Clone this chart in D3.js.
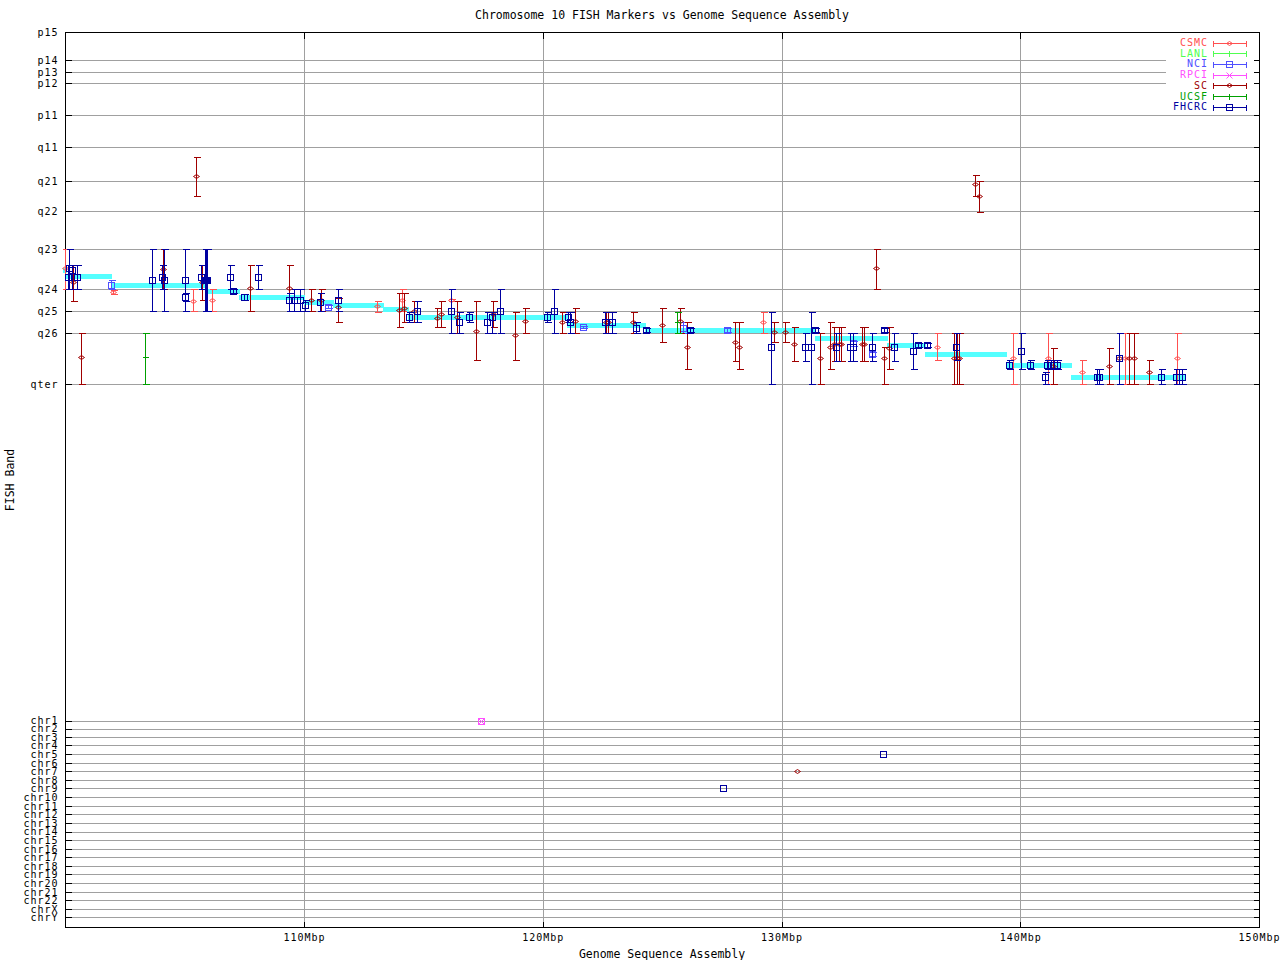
<!DOCTYPE html>
<html><head><meta charset="utf-8">
<script src="https://cdn.jsdelivr.net/npm/d3@7"></script>
<style>
body{margin:0;background:#fff}
svg{display:block}
</style></head><body>
<svg id="c" width="1280" height="960"></svg>
<script>
// ---------------- DATA ----------------
const xTicks = [110, 120, 130, 140, 150];
const bandLabels = ["p15","p14","p13","p12","p11","q11","q21","q22","q23","q24","q25","q26","qter"];
const bandPos = [0, 28, 40, 51, 83, 115, 149, 179, 217, 257, 279, 301, 352];
const chrLabels = ["chr1","chr2","chr3","chr4","chr5","chr6","chr7","chr8","chr9","chr10","chr11","chr12","chr13","chr14","chr15","chr16","chr17","chr18","chr19","chr20","chr21","chr22","chrX","chrY"];
const chrPos = [688.7,696.7,705.3,713.3,722,731,739,748,756.3,765.3,774,782.3,791,799.7,808.3,817.3,825.3,834,842,851.3,860.3,868.3,877.3,885.3];

const sources = ["CSMC","LANL","NCI","RPCI","SC","UCSF","FHCRC"];

// [Mbp, band, bandLow, bandHigh]
const csmc = [
[100.0,236,217,257],[102.01,259.5,257.5,261.5],[105.36,268.7,257,279],[106.16,268,257,279],
[113.07,274,268.7,279.7],[114.12,268,257.3,279],[116.17,268,267,269],[129.24,290.3,279.7,301.3],
[136.53,315.3,301.3,328],[139.71,326.3,301.3,352.3],[141.18,326.3,301.3,352.3],[142.60,340.3,328,352.3],
[144.40,326.3,301.3,352.3],[146.58,326.3,301.3,352.3]
];
const lanl = [];
const nci = [
[101.90,253,248,257],[111.02,274.7,273,276],[121.67,294.7,293.7,295.7],[125.86,296.3,290,301.3],
[127.73,298,296,300],[133.01,311.3,309,314],[133.80,322,320,324]
];
const rpci = [];
const sc = [
[100.32,250,233,269],[100.66,325,301,352],[104.11,237.3,217,257],[105.48,144,125,164],
[105.73,250,233,268],[107.75,256.3,233,279],[109.38,256.3,233,279],[110.31,268,257,279],
[110.72,268,257,279],[111.44,274.7,266,290],[113.99,278,261.3,295.3],[114.20,276.3,261.3,290.3],
[114.61,279,268.7,290.3],[115.58,286.3,276.3,295.3],[115.75,282,268.7,295.3],[116.42,285.3,268.7,301.3],
[117.22,298.7,268.7,328],[117.93,282,268.7,295.3],[118.85,303.3,279.7,328],[119.27,289.3,276.3,301.3],
[120.82,290.3,279.7,301.3],[121.36,289.3,276.3,301.3],[122.64,290.3,279.7,301.3],[122.75,290.3,279.7,301.3],
[123.79,290.3,279.7,301.3],[124.98,293,276.3,310.3],[125.76,289,276.3,301.3],[126.03,314.7,290.3,337.3],
[128.04,309.7,290.3,328.7],[128.21,314.7,290.3,337.3],[129.67,300.3,290.3,310.3],[130.16,300.3,290.3,310.3],
[130.51,312,295.3,328.7],[131.60,326.3,301.3,352.3],[132.04,314.7,290.3,337.3],[132.19,312,295.3,328.7],
[132.40,312,295.3,328.7],[132.51,312,295.3,328.7],[133.38,312,295.3,328.7],[133.44,312,295.3,328.7],
[133.96,236,217,257],[134.28,326.3,315.3,352.3],[134.52,316.3,295.3,337.3],[137.24,326.3,301.3,352.3],
[137.36,326.3,301.3,352.3],[137.44,326.3,301.3,352.3],[138.10,152,143,164],[138.27,164,149,180],
[141.38,334,316.3,352.3],[143.73,334,316.3,352.3],[144.12,326.3,301.3,352.3],[144.55,326.3,301.3,352.3],
[144.75,326.3,301.3,352.3],[145.40,340.3,328,352.3]
];
const ucsf = [
[103.34,325,301,352],[125.64,290.3,279.7,301.3]
];
const fhcrc = [
[100.12,245,233,257],[100.16,236,217,257],[100.28,238,233,257],[100.49,245,233,257],
[103.65,248.3,217,279],[104.04,245.3,233,257],[104.15,248.3,217,279],[105.03,248.3,217,279],
[105.03,265.3,261,269],[105.69,245,233,257],[105.87,248,217,279],[105.90,248,217,279],
[105.92,248,217,279],[106.91,245.3,233,257],[107.04,259,257,261],[107.50,265,262,268],
[108.09,245.3,233,257],[109.36,268,261,279],[109.59,268,257,279],[109.83,268,257,279],
[110.05,273,268,279],[110.68,270.3,261,279],[111.44,268,257,279],[114.41,285,279.7,290.3],
[114.75,279,268.7,290.3],[116.17,279,257.3,301.3],[116.50,290,279.7,301.3],[116.92,285,279.7,290.3],
[117.68,290,279.7,301.3],[117.89,285,279.7,301.3],[118.22,279.3,257.3,301.3],[120.19,285,279.7,290.3],
[120.48,279.3,257.3,301.3],[121.07,285,279.7,290.3],[121.15,290.3,279.7,301.3],[122.61,290.3,279.7,301.3],
[122.89,290.3,279.7,301.3],[123.91,296.3,290,301.3],[124.33,298,296,300],[126.17,298.3,296.3,300.3],
[129.57,315.3,279.7,352.3],[131.00,315.3,301.3,328.7],[131.25,315.3,279.7,352.3],[131.42,298.3,296.3,300.3],
[132.27,315.3,301.3,328.7],[132.87,315.3,301.3,328.7],[133.01,315.3,301.3,328.7],[133.80,315.3,301.3,328.7],
[134.28,298.3,296.3,300.3],[134.73,315.3,301.3,328.7],[135.52,319.3,301.3,337.3],[135.73,313.3,311.3,315.3],
[136.11,313.3,311.3,315.3],[137.31,315.3,301.3,328],[139.54,333,328,337.3],[140.04,319.3,301.3,337.3],
[140.42,333,328,337.3],[141.05,345.3,339.7,352.3],[141.13,333,328,337.3],[141.28,333,328,337.3],
[141.41,333,328,337.3],[141.52,333,328,337.3],[143.23,345.3,337.3,352.3],[143.29,345.3,337.3,352.3],
[144.15,326.3,301.3,352.3],[145.88,345.3,337.3,352.3],[146.52,345.3,337.3,352.3],[146.66,345.3,337.3,352.3],
[146.77,345.3,337.3,352.3]
];

// markers mapped to other chromosomes
const offSrc = ["RPCI","FHCRC","SC","FHCRC"];
const offMbp = [117.41, 134.25, 130.65, 127.55];
const offChr = ["chr1","chr5","chr7","chr9"];

// assembly band assignment (step line)
const stepStart = [99.91,100.03,101.92,105.85,107.28,110.0,111.21,113.31,114.36,121.02,124.28,131.40,134.42,136.01,139.40,142.13];
const stepEnd   = [100.03,101.92,105.85,107.28,110.0,111.21,113.31,114.36,121.02,124.28,131.40,134.42,136.01,139.40,142.13,146.90];
const stepBand  = [238,244,253,259,265,269.5,273.5,277,285,293,298,305.5,313,321.5,332.5,345];

// ---------------- STYLE ----------------
const seriesData = {CSMC:csmc, LANL:lanl, NCI:nci, RPCI:rpci, SC:sc, UCSF:ucsf, FHCRC:fhcrc};
const colors = {CSMC:"#ff5050", LANL:"#50ff50", NCI:"#5050ff", RPCI:"#ff50ff", SC:"#a00000", UCSF:"#00a000", FHCRC:"#0000a0"};
const markers = {CSMC:"diamond", LANL:"plus", NCI:"square", RPCI:"cross", SC:"diamond", UCSF:"plus", FHCRC:"square"};
const FONT = "'DejaVu Sans Mono', monospace";
const FS = 11.5;      // title / axis titles
const FS_T = 10;      // ticks / legend
const LS_T = "1px";   // letter spacing for small text

const L = 65, R = 1259, T = 32, B = 927;
const x = d3.scaleLinear().domain([100, 150]).range([L + 0.25, R]);
const y = d3.scaleLinear().domain([0, 895]).range([T, B]);

const svg = d3.select("#c").attr("shape-rendering", "crispEdges");
svg.append("rect").attr("width", 1280).attr("height", 960).attr("fill", "#fff");

const px = v => Math.round(x(v)) + 0.5;
const py = v => Math.round(y(v)) + 0.5;

// grid
const grid = svg.append("g").attr("stroke", "#a0a0a0").attr("stroke-width", 1);
xTicks.filter(t => t < 150).forEach(t => {
  grid.append("line").attr("x1", px(t)).attr("x2", px(t)).attr("y1", T).attr("y2", B);
});
bandPos.concat(chrPos).forEach(v => {
  if (v === 0) return;
  grid.append("line").attr("x1", L).attr("x2", R).attr("y1", py(v)).attr("y2", py(v));
});

// legend background
svg.append("rect").attr("x", 1166).attr("y", 35).attr("width", 92).attr("height", 77).attr("fill", "#fff");

// axes
const yTickVals = bandPos.concat(chrPos);
const yLabelMap = new Map();
bandPos.forEach((v, i) => yLabelMap.set(v, bandLabels[i]));
chrPos.forEach((v, i) => yLabelMap.set(v, chrLabels[i]));

function styleAxis(g) {
  g.select(".domain").remove();
  g.selectAll(".tick line").attr("stroke", "#000");
  g.selectAll("text").attr("fill", "#000").attr("letter-spacing", LS_T);
  g.attr("font-family", FONT).attr("font-size", FS_T);
}
svg.append("g").attr("transform", `translate(0,${B + 0.5})`)
  .call(d3.axisBottom(x).tickValues(xTicks).tickSize(-6).tickPadding(6).tickFormat(d => d + "Mbp"))
  .call(styleAxis);
svg.append("g").attr("transform", `translate(0,${T + 0.5})`)
  .call(d3.axisTop(x).tickValues(xTicks).tickSize(-6).tickFormat(""))
  .call(styleAxis);
svg.append("g").attr("transform", `translate(${L + 0.5},0)`)
  .call(d3.axisLeft(y).tickValues(yTickVals).tickSize(-6).tickPadding(7).tickFormat(d => yLabelMap.get(d)))
  .call(styleAxis);
svg.append("g").attr("transform", `translate(${R + 0.5},0)`)
  .call(d3.axisRight(y).tickValues(yTickVals).tickSize(-6).tickFormat(""))
  .call(styleAxis);

// border
svg.append("rect").attr("x", L + 0.5).attr("y", T + 0.5).attr("width", R - L).attr("height", B - T)
  .attr("fill", "none").attr("stroke", "#000");

// step line
const stepG = svg.append("g").attr("stroke", "#55ffff").attr("stroke-width", 5).attr("stroke-linecap", "butt");
stepBand.forEach((b, i) => {
  stepG.append("line").attr("x1", x(stepStart[i])).attr("x2", x(stepEnd[i]) + 1)
    .attr("y1", Math.round(y(b))).attr("y2", Math.round(y(b)));
});

// markers
function drawMarker(g, cx, cy, type, color) {
  if (type === "diamond") {
    g.append("path").attr("d", `M${cx - 3},${cy}L${cx},${cy - 2}L${cx + 3},${cy}L${cx},${cy + 2}Z`)
      .attr("fill", "none").attr("stroke", color).attr("shape-rendering", "auto");
  } else if (type === "square") {
    g.append("rect").attr("x", cx - 3).attr("y", cy - 3).attr("width", 6).attr("height", 6)
      .attr("fill", "none").attr("stroke", color);
  } else if (type === "plus") {
    g.append("line").attr("x1", cx - 3).attr("x2", cx + 3).attr("y1", cy).attr("y2", cy).attr("stroke", color);
    g.append("line").attr("x1", cx).attr("x2", cx).attr("y1", cy - 3).attr("y2", cy + 3).attr("stroke", color);
  } else if (type === "cross") {
    g.append("path").attr("d", `M${cx - 3},${cy - 3}L${cx + 3},${cy + 3}M${cx - 3},${cy + 3}L${cx + 3},${cy - 3}`)
      .attr("stroke", color).attr("fill", "none").attr("shape-rendering", "auto");
  }
}
function drawErr(g, cx, cy, lo, hi, type, color) {
  g.append("line").attr("x1", cx).attr("x2", cx).attr("y1", lo).attr("y2", hi).attr("stroke", color);
  g.append("line").attr("x1", cx - 3).attr("x2", cx + 4).attr("y1", lo).attr("y2", lo).attr("stroke", color);
  g.append("line").attr("x1", cx - 3).attr("x2", cx + 4).attr("y1", hi).attr("y2", hi).attr("stroke", color);
  drawMarker(g, cx, cy, type, color);
}

const ptsG = svg.append("g");
sources.forEach(s => {
  const g = ptsG.append("g");
  seriesData[s].forEach(d => {
    drawErr(g, px(d[0]), py(d[1]), py(d[2]), py(d[3]), markers[s], colors[s]);
  });
});
offSrc.forEach((s, i) => {
  const v = chrPos[chrLabels.indexOf(offChr[i])];
  drawMarker(ptsG, px(offMbp[i]), py(v), markers[s], colors[s]);
  if (s === "RPCI") drawMarker(ptsG, px(offMbp[i]), py(v), "square", colors[s]);
});

// legend
const leg = svg.append("g").attr("font-family", FONT).attr("font-size", FS_T);
sources.forEach((s, i) => {
  const cy = 42.5 + i * 10.7;
  const yy = Math.round(cy) + 0.5;
  leg.append("text").attr("x", 1208).attr("y", cy).attr("dy", "0.35em").attr("text-anchor", "end")
    .attr("letter-spacing", LS_T).attr("fill", colors[s]).text(s);
  leg.append("line").attr("x1", 1213).attr("x2", 1247).attr("y1", yy).attr("y2", yy).attr("stroke", colors[s]);
  leg.append("line").attr("x1", 1213.5).attr("x2", 1213.5).attr("y1", yy - 3).attr("y2", yy + 3).attr("stroke", colors[s]);
  leg.append("line").attr("x1", 1246.5).attr("x2", 1246.5).attr("y1", yy - 3).attr("y2", yy + 3).attr("stroke", colors[s]);
  drawMarker(leg, 1229.5, yy, markers[s], colors[s]);
});

// titles
svg.append("text").attr("x", 662).attr("y", 19).attr("text-anchor", "middle")
  .attr("font-family", FONT).attr("font-size", FS).text("Chromosome 10 FISH Markers vs Genome Sequence Assembly");
svg.append("text").attr("x", 662).attr("y", 958).attr("text-anchor", "middle")
  .attr("font-family", FONT).attr("font-size", FS).text("Genome Sequence Assembly");
svg.append("text").attr("transform", "translate(14,480) rotate(-90)").attr("text-anchor", "middle")
  .attr("font-family", FONT).attr("font-size", FS).text("FISH Band");
</script>
</body></html>
